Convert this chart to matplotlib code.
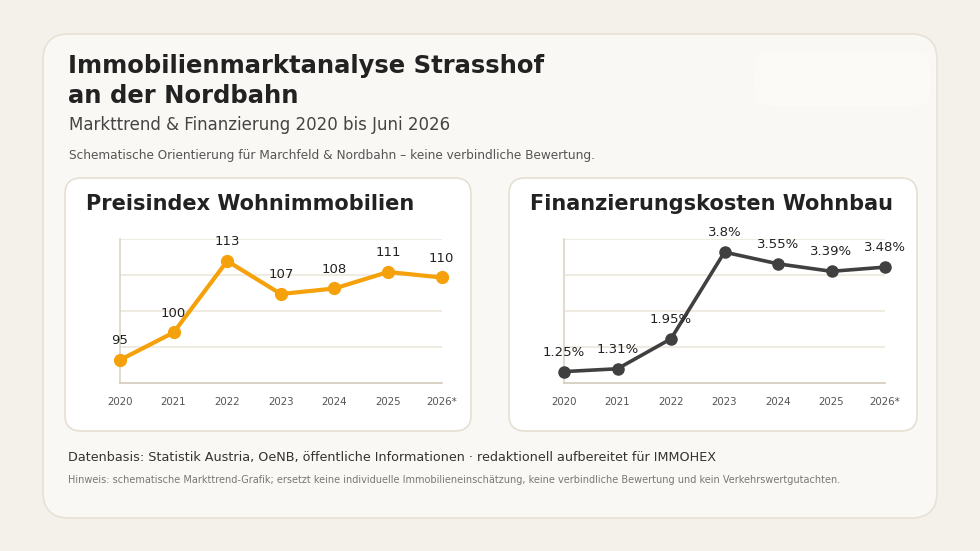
import matplotlib.pyplot as plt
from matplotlib.patches import FancyBboxPatch

years = ["2020", "2021", "2022", "2023", "2024", "2025", "2026*"]
price_index = [95, 100, 113, 107, 108, 111, 110]
financing_rate = [1.25, 1.31, 1.95, 3.8, 3.55, 3.39, 3.48]
rate_labels = ["1.25%", "1.31%", "1.95%", "3.8%", "3.55%", "3.39%", "3.48%"]

W, H = 980, 551
fig = plt.figure(figsize=(W / 100, H / 100), dpi=100)
fig.patch.set_facecolor("#f4f0ea")

# background layer in pixel coordinates
bg = fig.add_axes([0, 0, 1, 1])
bg.set_xlim(0, W)
bg.set_ylim(H, 0)
bg.axis("off")


def card(x0, y0, x1, y1, r, fc, ec):
    bg.add_patch(FancyBboxPatch((x0, y0), x1 - x0, y1 - y0,
                                boxstyle=f"round,pad=0,rounding_size={r}",
                                fc=fc, ec=ec, lw=1.2))


card(43, 34, 937, 518, 26, "#faf8f4", "#e9e1d4")
card(755, 52, 930, 106, 14, "#fbfaf7", "none")
card(65, 178, 471, 431, 16, "#ffffff", "#e6dfd2")
card(509, 178, 917, 431, 16, "#ffffff", "#e6dfd2")

bg.text(68, 81, "Immobilienmarktanalyse Strasshof\nan der Nordbahn", fontsize=17.5,
        fontweight="bold", color="#222222", va="center", ha="left", linespacing=1.27)
bg.text(69, 125, "Markttrend & Finanzierung 2020 bis Juni 2026", fontsize=12,
        color="#444444", va="center")
bg.text(69, 155, "Schematische Orientierung für Marchfeld & Nordbahn – keine verbindliche Bewertung.",
        fontsize=8.7, color="#555555", va="center")
bg.text(68, 457, "Datenbasis: Statistik Austria, OeNB, öffentliche Informationen · redaktionell aufbereitet für IMMOHEX",
        fontsize=9.15, color="#333333", va="center")
bg.text(68, 480, "Hinweis: schematische Markttrend-Grafik; ersetzt keine individuelle Immobilieneinschätzung, keine verbindliche Bewertung und kein Verkehrswertgutachten.",
        fontsize=7.0, color="#777777", va="center")
bg.text(86, 204, "Preisindex Wohnimmobilien", fontsize=15, fontweight="bold",
        color="#222222", va="center")
bg.text(530, 204, "Finanzierungskosten Wohnbau", fontsize=15, fontweight="bold",
        color="#222222", va="center")


def panel(x0, x1, values, labels, ylim, color, lw, ms):
    top, bottom = 239, 383.3
    ax = fig.add_axes([x0 / W, (H - bottom) / H, (x1 - x0) / W, (bottom - top) / H])
    ax.set_facecolor("none")
    xs = list(range(len(values)))
    ax.set_xlim(0, len(values) - 1)
    ax.set_ylim(*ylim)
    step = (ylim[1] - ylim[0]) / 4
    for k in range(1, 5):
        ax.axhline(ylim[0] + k * step, color="#f0ebe2", lw=1.5, zorder=0)
    ax.plot(xs, values, color=color, lw=lw, marker="o", ms=ms, zorder=3,
            clip_on=False, solid_capstyle="round")
    for x, v, t in zip(xs, values, labels):
        ax.annotate(t, (x, v), xytext=(0, 14), textcoords="offset points",
                    ha="center", va="center", fontsize=9.5, color="#222222")
    ax.set_xticks(xs)
    ax.set_xticklabels(years, fontsize=7.4, color="#555555")
    ax.tick_params(axis="x", length=0, pad=10)
    ax.set_yticks([])
    for s in ["top", "right"]:
        ax.spines[s].set_visible(False)
    ax.spines["left"].set_color("#ddd4c6")
    ax.spines["bottom"].set_color("#d3cabb")
    ax.spines["left"].set_linewidth(1.2)
    ax.spines["bottom"].set_linewidth(1.2)
    return ax


panel(120, 441.7, price_index, [str(v) for v in price_index], (90.76, 117.0),
      "#f5a10b", 3.0, 8.5)
panel(564, 885, financing_rate, rate_labels, (1.0, 4.08), "#404040", 2.6, 8.0)

fig.savefig("out.png", dpi=100, facecolor=fig.get_facecolor())
